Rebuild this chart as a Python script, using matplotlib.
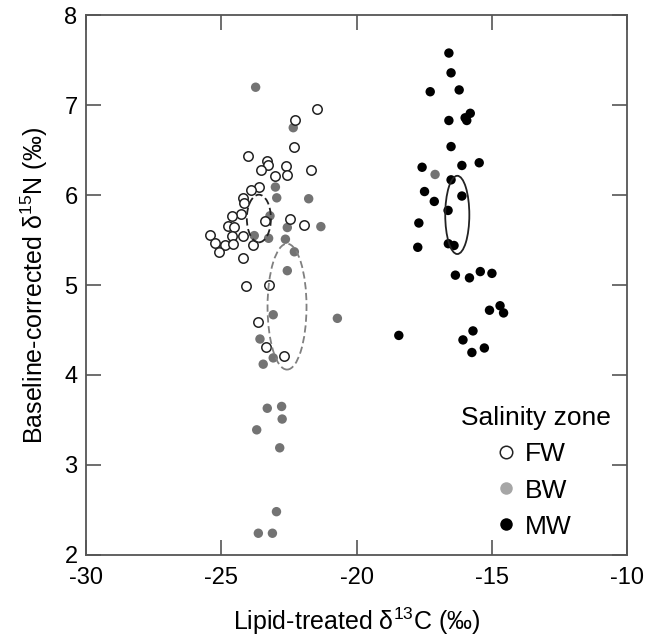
import matplotlib
matplotlib.use("Agg")
import matplotlib.pyplot as plt
from matplotlib.patches import Ellipse
from matplotlib.lines import Line2D

plt.rcParams["font.family"] = ["Liberation Sans", "DejaVu Sans"]
plt.rcParams["mathtext.fontset"] = "custom"
plt.rcParams["mathtext.rm"] = "Liberation Sans"
plt.rcParams["axes.unicode_minus"] = False

# ---- data ----
fw_x = [-21.47, -22.26, -22.32, -24.00, -23.30, -23.28, -23.54, -22.62, -21.67,
        -22.56, -23.00, -23.59, -23.90, -24.21, -24.15, -24.27, -24.60, -23.38,
        -22.47, -21.94, -24.74, -24.52, -25.42, -24.60, -24.18, -25.22, -24.87,
        -24.55, -23.84, -25.09, -24.21, -24.08, -23.22, -23.65, -23.35, -22.68]
fw_y = [6.96, 6.84, 6.53, 6.43, 6.38, 6.34, 6.28, 6.32, 6.28,
        6.22, 6.21, 6.09, 6.06, 5.97, 5.91, 5.79, 5.77, 5.71,
        5.74, 5.67, 5.66, 5.65, 5.56, 5.54, 5.54, 5.47, 5.45,
        5.46, 5.44, 5.37, 5.30, 4.99, 5.00, 4.59, 4.31, 4.21]

bw_x = [-23.73, -22.34, -23.00, -22.95, -21.77, -23.20, -21.32, -22.56, -23.78,
        -23.25, -22.63, -22.30, -22.56, -23.08, -20.71, -23.57, -23.08, -23.45,
        -23.30, -22.77, -22.75, -23.69, -22.84, -22.96, -23.63, -23.11, -17.10]
bw_y = [7.20, 6.75, 6.09, 5.97, 5.96, 5.77, 5.65, 5.64, 5.55,
        5.52, 5.51, 5.37, 5.16, 4.67, 4.63, 4.40, 4.19, 4.12,
        3.63, 3.65, 3.51, 3.39, 3.19, 2.48, 2.24, 2.24, 6.23]

mw_x = [-16.59, -16.51, -17.28, -16.21, -16.59, -15.99, -15.80, -15.93, -16.51,
        -17.58, -16.11, -15.47, -16.51, -17.49, -16.11, -17.13, -16.62, -17.70,
        -17.74, -16.61, -16.40, -16.35, -15.83, -15.43, -15.00, -15.09, -14.70,
        -14.57, -18.44, -15.70, -16.07, -15.28, -15.74]
mw_y = [7.58, 7.36, 7.15, 7.17, 6.83, 6.86, 6.91, 6.83, 6.54,
        6.31, 6.33, 6.36, 6.17, 6.04, 5.99, 5.93, 5.83, 5.69,
        5.42, 5.46, 5.44, 5.11, 5.08, 5.15, 5.13, 4.72, 4.77,
        4.69, 4.44, 4.49, 4.39, 4.30, 4.25]

# ellipses: (center x, center y, width, height)
ell_fw = (-23.61, 5.74, 0.89, 0.53)
ell_bw = (-22.57, 4.76, 1.44, 1.40)
ell_mw = (-16.28, 5.78, 0.89, 0.87)

GRAY = "#737373"
SPINE = "#555555"
FS = 17
LFS = 19

fig = plt.figure(figsize=(6.46, 6.37), dpi=100)
ax = fig.add_axes([0.133, 0.129, 0.838, 0.847])

ms = 46
ax.scatter(bw_x, bw_y, s=ms, c=GRAY, edgecolors="none", zorder=3)
ax.scatter(fw_x, fw_y, s=ms, facecolors="white", edgecolors="#222222",
           linewidths=1.1, zorder=4)
ax.scatter(mw_x, mw_y, s=ms, c="black", edgecolors="none", zorder=3)

for (cx, cy, w, h), col, ls in [(ell_fw, "#222222", (0, (4, 2))),
                                (ell_bw, "#808080", (0, (4, 2))),
                                (ell_mw, "#222222", "-")]:
    ax.add_patch(Ellipse((cx, cy), w, h, fill=False, edgecolor=col,
                         linestyle=ls, linewidth=1.3, zorder=5))

ax.set_xlim(-30, -10)
ax.set_ylim(2, 8)
ax.set_xticks([-30, -25, -20, -15, -10])
ax.set_yticks([2, 3, 4, 5, 6, 7, 8])
ax.tick_params(direction="in", length=11, width=1.2, color=SPINE,
               labelsize=FS, top=True, right=True)
ax.tick_params(axis="x", pad=9)
ax.tick_params(axis="y", pad=6)
for s in ax.spines.values():
    s.set_color(SPINE)
    s.set_linewidth(1.3)

ax.set_xlabel(r"Lipid-treated δ$^{\mathregular{13}}$C (‰)", fontsize=FS + 1,
              labelpad=12)
ax.set_ylabel(r"Baseline-corrected δ$^{\mathregular{15}}$N (‰)", fontsize=FS + 1,
              labelpad=10)

handles = [
    Line2D([], [], ls="none", marker="o", ms=9, mfc="white", mec="#222222",
           mew=1.1, label="FW"),
    Line2D([], [], ls="none", marker="o", ms=9, mfc="#a6a6a6", mec="none",
           label="BW"),
    Line2D([], [], ls="none", marker="o", ms=9, mfc="black", mec="none",
           label="MW"),
]
leg = ax.legend(handles=handles, title="Salinity zone", loc="lower right",
                bbox_to_anchor=(0.969, 0.030), frameon=False, fontsize=LFS,
                title_fontsize=LFS, handletextpad=0.43, labelspacing=0.46,
                handlelength=0.5, borderpad=0, borderaxespad=0)

fig.savefig("out.png", dpi=100)
